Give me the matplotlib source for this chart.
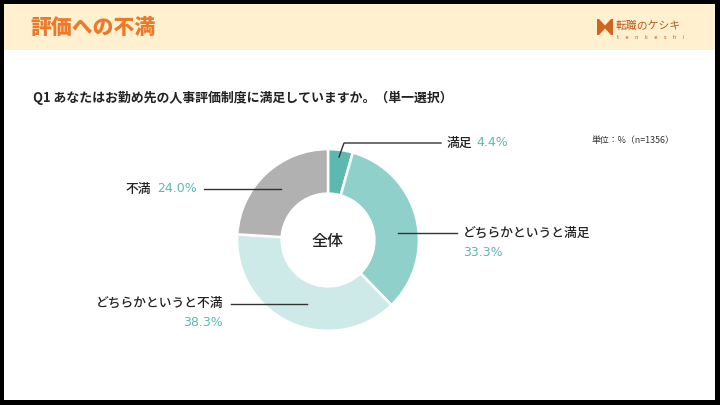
import matplotlib.pyplot as plt
from matplotlib.patches import Rectangle, Polygon

plt.rcParams['font.family'] = ['Noto Sans CJK JP', 'DejaVu Sans']

# data
categories = ["満足", "どちらかというと満足", "どちらかというと不満", "不満"]
shares = [4.4, 33.3, 38.3, 24.0]
colors = ["#5DB9B0", "#8FD0CA", "#CEEAE8", "#B1B1B1"]

TITLE = "評価への不満"
QUESTION = "Q1 あなたはお勤め先の人事評価制度に満足していますか。（単一選択）"
UNIT = "単位：%（n=1356）"
CENTER = "全体"

ORANGE = "#EB7A2C"
TEAL = "#5DB8B0"
DARK = "#222222"
PCT_FONT = ["DejaVu Sans"]

fig = plt.figure(figsize=(7.2, 4.05), dpi=100)
fig.patch.set_facecolor("black")

# background / layout axis in pixel coordinates
bg = fig.add_axes([0, 0, 1, 1])
bg.set_xlim(0, 720)
bg.set_ylim(405, 0)
bg.axis("off")
bg.add_patch(Rectangle((4, 4), 711, 396, facecolor="white", edgecolor="none"))
bg.add_patch(Rectangle((4, 4), 711, 46, facecolor="#FFF1D0", edgecolor="none"))

bg.text(30, 28, TITLE, fontsize=15, fontweight="heavy", color=ORANGE,
        ha="left", va="center")

# logo
bg.add_patch(Rectangle((597, 19), 16, 16, facecolor="#D0661E", edgecolor="none"))
bg.add_patch(Polygon([(599, 19), (611, 19), (605, 25.5)], closed=True,
                     facecolor="#FFF1D0", edgecolor="none"))
bg.add_patch(Polygon([(599, 35), (611, 35), (605, 28.5)], closed=True,
                     facecolor="#FFF1D0", edgecolor="none"))
bg.text(616, 25.5, "転職のケシキ", fontsize=7.8, color="#B9581C", ha="left", va="center")
bg.text(617, 37.5, "t    e    n    k    e    s    h    i", fontsize=3.6, color="#B9581C",
        ha="left", va="center", family="DejaVu Sans")

bg.text(33, 98, QUESTION, fontsize=9.3, fontweight="bold", color=DARK,
        ha="left", va="center")
bg.text(592, 141, UNIT, fontsize=6.4, color="#333333", ha="left", va="center")

# donut
ax = fig.add_axes([(328 - 100) / 720, (405 - 240 - 100) / 405, 200 / 720, 200 / 405])
ax.pie(shares, colors=colors, startangle=90, counterclock=False, radius=1,
       wedgeprops=dict(width=0.49, edgecolor="white", linewidth=1.8))
ax.set_xlim(-1.1, 1.1)
ax.set_ylim(-1.1, 1.1)
ax.set_aspect("equal")
ax.text(0, -0.02, CENTER, fontsize=11.5, fontweight="medium", color=DARK,
        ha="center", va="center")

# leader lines and labels on top (pixel layout)
top = fig.add_axes([0, 0, 1, 1])
top.set_xlim(0, 720)
top.set_ylim(405, 0)
top.axis("off")
top.patch.set_alpha(0)

lc = dict(color="#333333", lw=1.0)
lab = dict(fontsize=9.2, fontweight="medium", color=DARK, va="center")
pct = dict(fontsize=9, color=TEAL, va="center", family=PCT_FONT)

top.plot([339, 344, 441], [157, 143, 143], **lc)
top.text(447, 143, categories[0], ha="left", **lab)
top.text(476, 143, f"{shares[0]:.1f}%", ha="left", **pct)

top.plot([398, 457], [233, 233], **lc)
top.text(463, 233, categories[1], ha="left", **lab)
top.text(463, 253, f"{shares[1]:.1f}%", ha="left", **pct)

top.plot([231, 307], [304, 304], **lc)
top.text(223, 303, categories[2], ha="right", **lab)
top.text(223, 323, f"{shares[2]:.1f}%", ha="right", **pct)

top.plot([204, 281], [189, 189], **lc)
top.text(125, 189, categories[3], ha="left", **lab)
top.text(197, 189, f"{shares[3]:.1f}%", ha="right", **pct)

fig.savefig("out.png", dpi=100)
